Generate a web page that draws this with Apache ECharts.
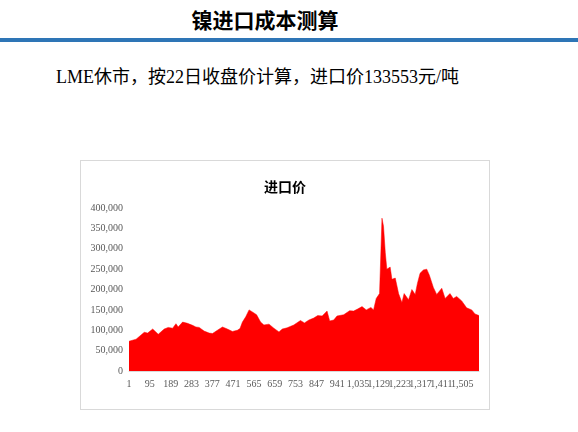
<!DOCTYPE html>
<html><head><meta charset="utf-8">
<script src="https://cdn.jsdelivr.net/npm/echarts@6/dist/echarts.min.js"></script>
<style>
body{margin:0;width:578px;height:432px;background:#fff;position:relative;overflow:hidden}
#hd{position:absolute;left:0;top:4px;width:530px;text-align:center;font:bold 21px "Noto Sans CJK SC";color:#000}
#bar{position:absolute;left:0;top:38px;width:578px;height:4px;background:#2e75b6}
#sub{position:absolute;left:56px;top:62px;font:18px "Liberation Serif","Noto Sans CJK SC";color:#000}
#chart{position:absolute;left:80px;top:160px;width:408px;height:248px;border:1px solid #d9d9d9}
</style></head><body>
<div id="hd">镍进口成本测算</div>
<div id="bar"></div>
<div id="sub">LME休市，按22日收盘价计算，进口价133553元/吨</div>
<div id="chart"></div>
<script>
//交易日序号
var dayIdx = [1,33,70,85,108,133,160,178,198,213,223,243,265,288,303,318,340,363,378,400,423,445,468,490,502,513,528,543,558,577,595,610,633,655,678,693,715,745,775,793,813,835,853,873,895,907,925,940,970,997,1015,1033,1053,1072,1093,1105,1117,1132,1140,1143,1150,1158,1165,1180,1188,1203,1218,1233,1243,1263,1278,1293,1303,1315,1330,1345,1357,1375,1390,1413,1428,1450,1465,1480,1503,1525,1548,1563,1581];
//进口价（元/吨）
var importPrice = [73000,78000,95000,93000,103000,90000,103000,107000,105000,116000,108000,120000,117000,112000,108000,107000,98000,93000,92000,100000,108000,103000,97000,100000,104000,120000,133000,150000,145000,138000,120000,113000,115000,105000,96000,103000,106000,113000,124000,118000,125000,130000,136000,135000,147000,123000,125000,135000,138000,148000,147000,152000,158000,150000,156000,150000,178000,190000,192000,375000,355000,290000,250000,255000,225000,228000,190000,168000,190000,175000,200000,188000,215000,240000,248000,250000,235000,205000,188000,203000,178000,190000,178000,183000,172000,155000,150000,140000,136000];

var seriesData = [];
for (var i = 0; i < dayIdx.length; i++) seriesData.push([dayIdx[i], importPrice[i]]);

var chart = echarts.init(document.getElementById('chart'));
var lab = {color:'#595959', fontSize:10, fontFamily:'Liberation Serif'};
chart.setOption({
	animation:false,
	title:{text:'进口价', left:'center', top:14, textStyle:{fontSize:14, fontWeight:'bold', color:'#000', fontFamily:'Noto Sans CJK SC'}},
	grid:{left:48, right:10, top:47, bottom:38},
	xAxis:{type:'value', min:1, max:1581, interval:94,
		axisLine:{lineStyle:{color:'#d9d9d9'}}, axisTick:{show:false}, splitLine:{show:false},
		axisLabel:Object.assign({showMaxLabel:false, margin:8}, lab)},
	yAxis:{type:'value', min:0, max:400000, interval:50000,
		axisLine:{show:false}, axisTick:{show:false}, splitLine:{show:false},
		axisLabel:Object.assign({margin:6}, lab)},
	series:[{type:'line', data:seriesData, symbol:'none', lineStyle:{width:0.5, color:'#ff0000'},
		areaStyle:{color:'#ff0000', opacity:1}}]
});
</script>
</body></html>
